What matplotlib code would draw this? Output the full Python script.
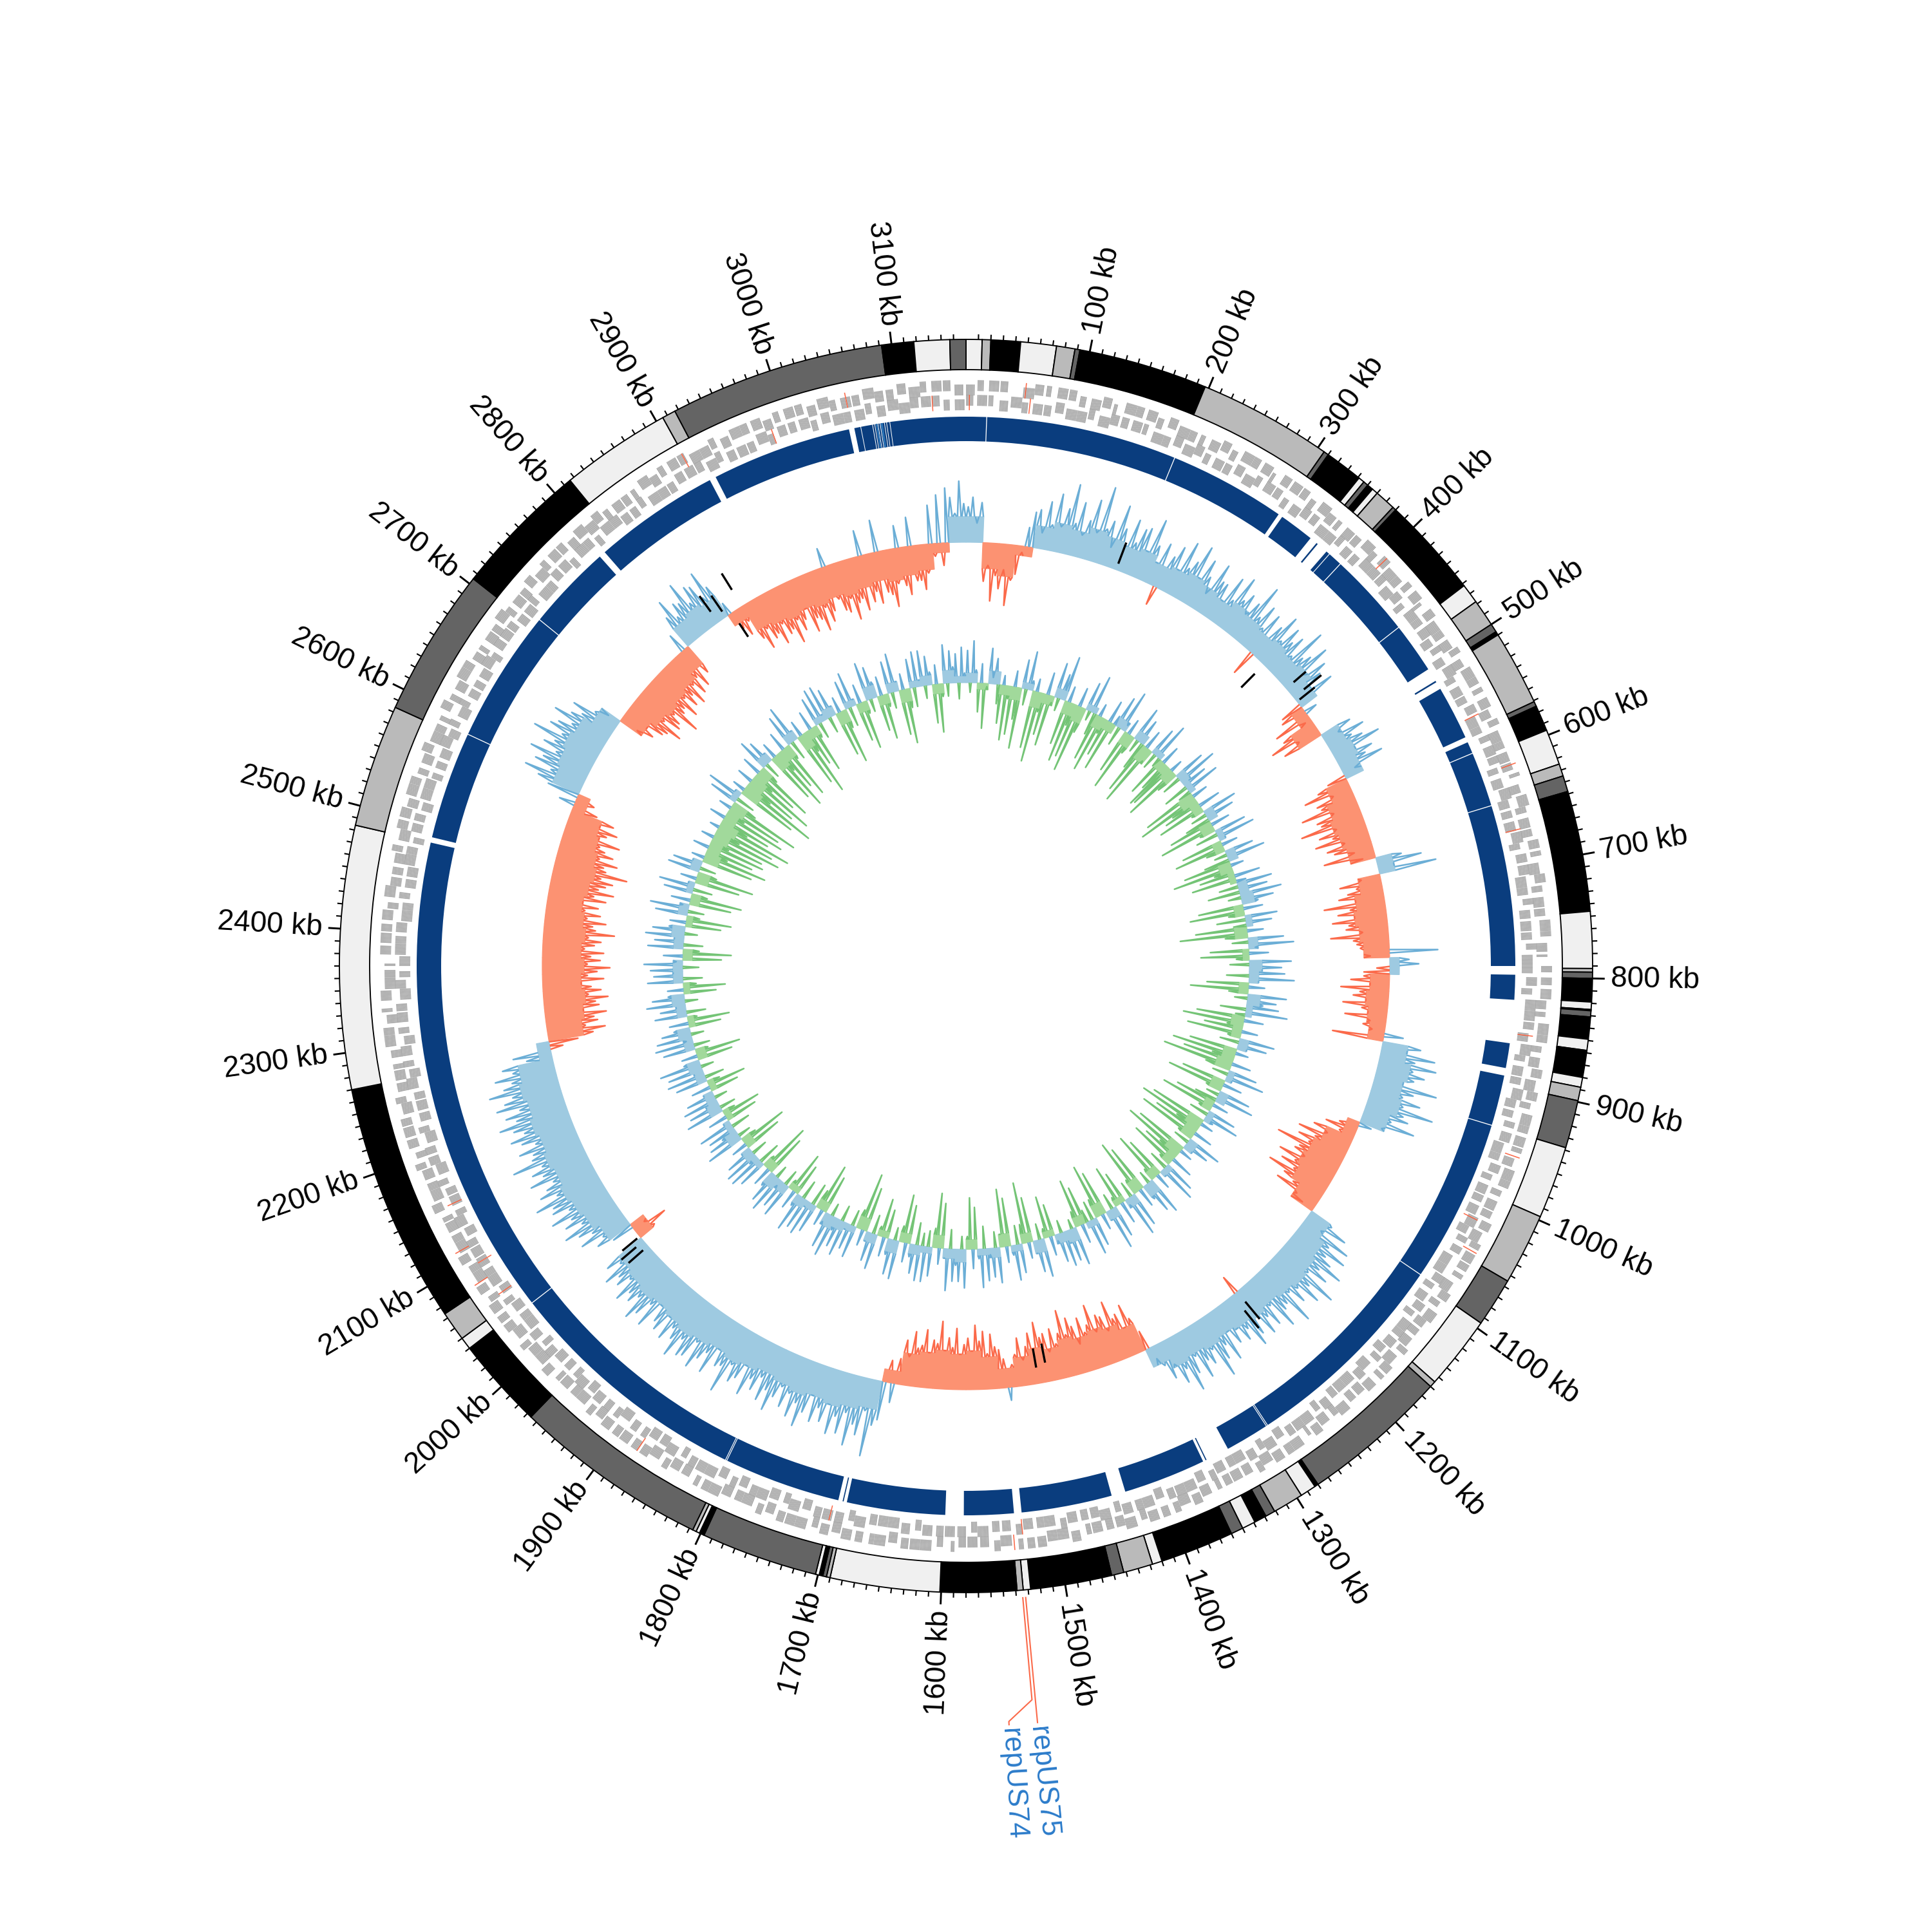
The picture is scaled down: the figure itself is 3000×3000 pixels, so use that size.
import numpy as np
import matplotlib
matplotlib.use("Agg")
import matplotlib.pyplot as plt
from matplotlib.collections import LineCollection

plt.rcParams['font.family'] = ['Liberation Sans', 'DejaVu Sans']

GENOME_KB = 3160

# ideogram bands (kb edges) and shade codes: k black, d dark, m mid, l light
band_edges = [0, 13, 20, 44, 73, 88, 92, 197, 306, 310, 341, 346, 350, 355, 360, 377, 380,
              462, 478, 500, 507, 510, 571, 575, 596, 625, 635, 648, 746, 792, 795, 800,
              819, 825, 826, 831, 849, 858, 859, 880, 888, 899, 938, 997, 1055, 1095, 1155,
              1160, 1280, 1283, 1296, 1321, 1329, 1339, 1350, 1360, 1420, 1428, 1452, 1462,
              1528, 1534, 1539, 1601, 1690, 1693, 1696, 1699, 1702, 1797, 1801, 1804, 1807,
              1966, 2040, 2050, 2074, 2270, 2484, 2584, 2705, 2816, 2906, 2917, 3092, 3118,
              3147, 3160]
band_shade = list("lmklmdkmdk" "ldklmdklmd" "kmdklmdklm" "dklmdklmkl" "mdlmdlmdkl"
                  "mdkldklmdk" "lmklmdkldk" "lmdklmklmd" "klmdkld")

tick_major = list(range(100, 3200, 100))
tick_minor = [k for k in range(10, 3160, 10) if k % 100]

# genes per 10 kb window, forward and reverse strand
genes_fwd = [7,5,8,6,0,9,7,4,8,6, 5,8,7,3,9,6,8,5,7,9, 6,4,8,7,5,9,6,8,3,7, 8,6,5,9,7,4,8,6,9,5,
             7,9,6,5,8,3,7,9,6,8, 5,7,9,6,4,8,7,5,9,6, 8,6,3,7,9,5,8,6,7,4, 9,7,5,8,6,9,4,7,2,5,
             6,8,7,4,9,6,5,8,7,9, 7,5,9,6,8,4,7,9,6,5, 8,6,7,9,5,8,6,4,9,7, 5,9,7,6,8,5,9,7,4,8,
             7,6,9,5,8,7,3,9,6,8, 9,5,7,8,6,4,8,7,9,5, 6,8,5,9,7,6,8,4,7,9, 8,7,6,4,9,5,7,8,6,3,
             5,9,8,6,7,9,4,6,8,7, 7,5,9,8,6,7,5,9,6,8, 9,6,4,7,8,5,9,7,6,8, 6,8,7,5,9,6,8,4,7,9,
             8,5,9,7,6,8,5,7,9,6, 7,9,6,8,4,7,9,6,8,5, 5,7,8,6,9,5,7,8,4,6, 9,6,7,3,8,9,6,2,7,8,
             6,8,5,9,7,6,8,5,9,7, 8,7,9,6,5,8,7,9,6,4, 7,5,8,9,6,7,4,8,6,9, 5,8,6,7,9,5,8,6,7,9,
             9,7,5,8,6,4,9,7,5,8, 6,9,8,5,7,9,6,8,7,5, 8,6,7,9,5,8,6,9,7,6, 7,9,5,8,6,7]
genes_rev = [6,8,4,7,9,5,8,6,7,9, 8,5,9,7,6,8,4,9,6,7, 9,7,5,8,6,7,9,5,8,6, 5,8,7,6,9,8,5,7,6,9,
             8,6,9,7,5,9,6,8,7,5, 7,9,5,8,6,7,9,6,5,8, 6,5,8,9,7,6,8,9,5,7, 8,9,6,5,7,8,6,5,9,6,
             7,5,9,8,6,7,9,5,8,6, 9,7,6,5,8,9,6,7,5,8, 6,8,9,7,5,6,9,8,7,5, 8,7,5,9,6,8,7,5,9,7,
             9,8,6,7,5,9,8,6,7,9, 5,7,9,6,8,5,7,9,8,6, 7,9,6,8,5,9,7,6,8,5, 9,6,8,5,7,6,9,5,7,8,
             6,8,5,7,9,8,6,9,5,7, 8,6,7,9,5,8,9,6,7,5, 7,9,8,6,5,9,7,8,5,6, 9,5,6,8,7,9,5,6,8,7,
             5,7,9,6,8,5,7,9,6,8, 8,6,7,9,5,8,6,5,9,7, 6,9,5,7,8,6,9,7,5,8, 7,5,8,6,9,7,5,8,9,6,
             8,9,6,5,7,8,9,6,5,7, 6,7,9,8,5,6,8,9,7,5, 9,5,7,6,8,9,5,7,8,6, 7,8,5,9,6,7,8,5,9,6,
             5,9,8,7,6,5,9,8,6,7, 8,6,9,5,7,8,6,9,5,7, 6,8,5,7,9,6,8,5,7,9, 9,7,8,6,5,8]
red_genes = [3, 52, 57, 403, 560, 612, 668, 852, 958, 1022, 1048, 1530, 1538, 1702,
             1880, 2062, 2080, 2095, 2112, 2152, 2905, 2985, 3055, 3130]
red_gene_strand = [1, 0, 1, 0, 1, 0, 1, 1, 0, 1, 0, 1, 0, 1, 0, 1, 0, 1, 0, 1, 0, 1, 0, 1]

# blue ring: breaks and lighter stripes (kb)
blue_gap_start = [18.6, 195.6, 304.5, 341, 349.5, 363.2, 376.6, 455.6, 503, 517, 574, 589.6,
                  640.6, 790, 821, 884, 937.6, 1089.6, 1287.4, 1288.8, 1330, 1353, 1432, 1529,
                  1582, 1690, 1694, 1806.2, 1807.6, 2037.6, 2484, 2588.6, 2712.6, 2793, 2916,
                  3052, 3062.7, 3073.7, 3075.7, 3078.7, 3080.7, 3084.7, 3086.7, 3089.7]
blue_gap_end = [19.4, 196.4, 308.5, 348, 360, 363.9, 377.4, 456.4, 515.5, 524, 579, 590.4,
                641.4, 798, 861, 891, 938.4, 1090.4, 1288.1, 1289.5, 1352, 1355.5, 1445, 1536,
                1599, 1693, 1698, 1806.9, 1808.3, 2038.4, 2489, 2589.4, 2713.4, 2799, 2922,
                3057, 3063.3, 3074.3, 3076.3, 3079.3, 3081.3, 3085.3, 3087.3, 3090.3]
blue_light_start = [3077.0, 3081.6]
blue_light_end = [3078.6, 3083.4]

# GC skew: smoothed (20 kb) and raw (5 kb), arbitrary units
skew_fill = [40, -40, -50, -15, 35, 45, 40, 50, 45, 40, 45, 35, 40, 45, 40, 35, 45, 40, 35, 40,
             35, 40, 30, -20, -40, 30, 35, 30, -35, -45, -50, -45, -40, 25, -35, -45, -50, -45, -40, 15,
             -30, -35, -30, -25, 40, 50, 45, 50, 40, -20, -45, -55, -60, -55, -40, 35, 45, 50, 55, 50,
             45, 50, 45, 40, 45, 40, 45, 30, -45, -55, -60, -55, -60, -50, -55, -45, -30, -50, -60, -55,
             -60, -55, -50, -20, 45, 50, 55, 50, 55, 50, 45, 50, 55, 50, 55, 60, 55, 50, 55, 50,
             45, -25, 40, 50, 55, 60, 55, 60, 55, 60, 55, 60, 55, 20, -55, -60, -65, -60, -65, -60,
             -65, -60, -55, -60, -65, -60, -55, -50, -20, 45, 50, 55, 50, 35, -40, -50, -55, -50, -45, -35,
             35, 40, 35, -20, -45, -50, -55, -50, -55, -50, -55, -50, -45, -50, -45, -40, -15, 40]
skew_line = [
    55, 70, 30, 62, -60, -35, -90, -50, -70, -40, -95, -55, -45, -10, 30, 55, 60, 25, 75, 40,
    90, 40, 70, 110, 50, 85, 35, 60, 95, 45, 120, 55, 70, 30, 100, 65, 40, 85, 50, 75,
    80, 45, 100, 60, 35, 70, -30, 55, 75, 40, 90, 50, 65, 95, 45, 80, 55, 30, 85, 60,
    60, 35, 80, 45, 90, 55, 70, 40, 65, 100, 50, 75, 40, 70, -40, 60, 85, 45, 75, 55,
    70, 40, 95, 50, 60, 85, 35, 70, 55, 30, 65, -35, -40, 20, -60, -10, -55, -80, -35, -65,
    50, 25, 65, 40, 55, 80, 35, 60, 45, 70, 20, -30, -50, -75, -30, -60, -55, -90, -40, -70,
    -65, -100, -45, -75, -55, -85, -40, -70, -60, -30, -80, -20, 40, 70, 25, 90, -30, -65, -40, -55,
    -70, -45, -95, -55, -75, -50, -85, -60, -65, -40, -90, -55, -50, -45, 75, -30, 30, 45, -20, -40,
    -40, -60, -30, -75, -45, -55, -35, -70, -40, -30, -65, -25, -35, -20, 30, -80, 60, 40, 85, 55,
    90, 55, 75, 60, 45, 100, 65, 50, 80, 55, 105, 60, 70, 45, 85, 35, 20, -30, -50, -25,
    -65, -40, -85, -55, -80, -60, -110, -70, -75, -55, -95, -65, -85, -60, -100, -70, -50, -75, -35, -20,
    40, 70, 30, 85, 55, 90, 60, 75, 100, 65, 85, 55, 110, 70, 95, 60, 80, 55, 105, 65,
    70, 95, 50, 80, 60, 85, -30, 75, 90, 55, 70, 45, 65, 40, 85, 55, 75, 100, 50, 70,
    60, 85, 45, 70, 95, 55, 75, 40, 60, 35, 20, -30, -55, -80, -45, -70, -65, -95, -50, -75,
    -80, -55, -100, -70, -60, -85, -45, -75, -90, -65, -105, -70, -55, -80, -45, -75, -70, -95, -55, -80,
    -60, -40, -75, -50, -35, 20, -45, -60, -65, -85, -55, -90, -75, -100, -60, -80, -70, -55, -95, -65,
    -80, -60, -105, -70, -75, -55, -90, -65, -60, -85, -45, -70, -40, 30, -35, 60, 70, 120, 50, 90,
    75, 110, 60, 95, 70, 100, 55, 85, 65, 90, 50, 80, 105, 70, 95, 60, 85, 55, 75, 100,
    70, 90, 55, 80, 65, 95, 50, 75, 85, 60, 110, 70, 75, 50, 95, 65, 80, 100, 60, 90,
    95, 70, 105, 80, 65, 90, 55, 85, 75, 50, 95, 60, 85, 100, 65, 80, 70, 90, 55, 75,
    65, 85, 50, 70, -30, -55, -20, 35, 60, 45, 80, 55, 75, 95, 60, 85, 70, 100, 65, 90,
    85, 110, 70, 95, 80, 65, 100, 75, 90, 70, 115, 80, 75, 95, 65, 85, 100, 75, 90, 110,
    80, 95, 70, 105, 90, 75, 110, 85, 70, 95, 65, 80, 40, 60, -20, -45, -70, -90, -60, -80,
    -75, -95, -60, -85, -80, -100, -70, -90, -75, -60, -95, -70, -85, -105, -70, -90, -75, -95, -65, -80,
    -90, -70, -110, -80, -75, -95, -65, -85, -60, -80, -55, -90, -70, -100, -75, -85, -95, -75, -115, -80,
    -75, -95, -65, -85, -70, -60, -90, -55, -65, -80, -50, -70, -40, 25, -30, 50, 70, 95, 55, 85,
    75, 100, 60, 85, 70, 110, 65, 90, 80, 60, 95, 70, 55, 75, 40, 20, -30, -55, -40, -65,
    -70, -90, -55, -80, -75, -60, -100, -70, -65, -85, -55, -75, -60, -80, -50, -70, -45, -65, 30, -50,
    55, 80, 45, 65, 60, 90, 50, 75, 70, 45, 85, 55, 20, -30, -45, -25, -60, -80, -50, -70,
    -65, -85, -55, -75, -70, -95, -60, -80, -65, -50, -90, -70, -75, -95, -60, -85, -70, 30, -55, -75,
    -80, -60, -95, -70, -65, -85, 40, -75, -60, -80, 50, -65, -70, -90, -55, 35, -60, -75, 45, -55,
    -55, -70, -45, 60, -20, 75, -35, 85, 70, 45, 95, 60]
black_kb = [182, 392, 431, 445, 451, 1231, 1238, 1481, 1493, 2007, 2015, 2022, 2846, 2857, 2866, 2880]
black_from = [10, -20, 15, 20, 5, 20, 30, -30, -25, 10, 15, 5, 20, 10, -20, 30]
black_to = [45, -50, 40, 55, 35, 55, 65, -60, -55, 40, 45, 35, 50, 40, -45, 60]

# inner GC content deviation: smoothed (20 kb) and raw (5 kb)
gc_fill = [15, -10, 20, -15, -20, 10, -25, -15, 15, -20, -25, 10, -20, -15, 15, -20, 15, -25, 10, -15,
           -20, 15, 10, -25, -15, 15, -20, 10, -15, 15, -20, -10, 15, 20, -15, 10, -20, 15, -10, 20,
           15, -15, 20, 10, -20, -15, 15, -20, -25, 10, -20, 15, -15, 10, -25, -20, 15, -25, -15, 10,
           -15, 20, -20, 15, -10, 15, -20, 10, -15, 20, 15, -10, 20, -15, 10, -20, 15, 10, -15, 20,
           15, -20, 10, 15, -15, 20, -10, 15, -20, 10, 15, 20, -15, 10, 15, -10, 15, 20, -15, 10,
           15, -15, 20, 10, -10, 20, 15, -10, 15, 20, -15, 15, 20, -10, 15, 20, -10, 15, 15, -15,
           15, 20, -10, 15, -15, 10, -20, 15, -25, -20, -25, -30, -20, -25, 10, -30, -25, -20, 15, -25,
           -20, 15, -25, -15, 10, 15, -20, 10, -15, 20, -15, 15, -20, 10, 15, -15, 20, 10]
gc_line = [
    50, -15, 65, 20, -45, 30, -70, -5, 55, 10, 40, -30, -60, 15, -85, -20, -75, 25, -50, -95,
    45, -25, 60, 15, -90, 20, -110, -30, -65, 35, -80, -10, 55, -20, 40, 70, -70, 25, -95, -35,
    -85, 30, -105, -40, 45, -15, 60, -35, -75, 20, -90, -25, -60, 35, -80, 15, 50, -30, 65, 10,
    -70, 25, -95, -30, 55, -20, 40, -45, -85, 30, -100, -20, 45, -25, 60, -15, -65, 30, -50, -80,
    -75, 20, -90, -35, 50, -30, 65, 15, 40, -40, 55, -20, -85, 25, -100, -45, -60, 35, -75, -20,
    55, -25, 45, -40, -70, 30, -90, -25, 50, -35, 60, 10, -65, 25, -80, -30, 45, -20, 60, -40,
    -75, 20, -95, -30, -55, 40, -70, 15, 55, -30, 45, -50, 65, -20, 50, 25, -70, 30, -85, -25,
    50, -45, 40, -20, -80, 25, -105, -35, 55, -25, 70, 10, -60, 30, -75, -20, 65, -30, 50, 20,
    55, -35, 70, 15, -65, 25, -90, -30, 60, -20, 45, 25, 50, -40, 65, -15, -75, 30, -95, -25,
    -60, 25, -85, -20, 55, -30, 45, 15, -75, 20, -100, -35, -80, 30, -110, -40, 45, -25, 60, 10,
    -70, 30, -90, -25, 50, -20, 60, -35, -65, 25, -85, -20, 45, -30, 55, 15, -90, 20, -105, -40,
    -75, 30, -95, -25, 55, -25, 40, 15, -85, 20, -100, -35, -60, 35, -75, -20, 50, -30, 60, 10,
    -65, 25, -80, -20, 60, -20, 50, 25, -75, 30, -90, -25, 55, -25, 65, 10, -50, 35, -65, -15,
    50, -25, 65, 15, -70, 25, -85, -30, 45, -30, 55, -20, -60, 30, -75, -25, 60, -15, 50, 20,
    55, -20, 45, 10, -50, 30, -65, -15, 60, -25, 50, 20, -70, 25, -95, -30, 45, -30, 55, 15,
    -75, 25, -90, -20, 55, -25, 45, 10, 50, -35, 60, 15, -65, 30, -80, -20, 60, -20, 50, 25,
    50, -30, 65, 15, -70, 25, -85, -30, 45, -25, 55, -20, 55, -35, 45, 20, -60, 30, -75, -25,
    60, -20, 55, 25, -45, 30, -60, -15, 55, -30, 45, 15, -70, 25, -90, -30, 50, -25, 40, 10,
    55, -25, 45, 20, 65, -20, 55, 15, -60, 25, -75, -30, 45, -35, 55, 10, 50, -30, 60, 20,
    -50, 30, -65, -15, 55, -25, 45, 10, 60, -20, 50, 25, -65, 30, -80, -20, 45, -35, 55, 15,
    55, -25, 45, 15, -60, 25, -75, -25, 60, -20, 50, 25, 45, -30, 55, 10, -50, 30, -60, -20,
    60, -25, 50, 20, 55, -20, 45, 15, -45, 30, -60, -20, 50, -30, 60, 15, 55, -20, 65, 25,
    -55, 25, -70, -20, 50, -25, 60, 10, 55, -20, 45, 25, -50, 30, -65, -15, 50, -30, 40, 15,
    60, -20, 50, 25, -50, 25, -65, -20, 55, -30, 45, 15, 50, -25, 60, 10, -60, 30, -75, -25,
    55, -30, 45, 15, 60, -20, 50, 25, -55, 25, -70, -20, 50, -25, 60, 10, -65, 30, -80, -25,
    45, -30, 55, 10, -70, 25, -90, -30, 50, -25, 45, 15, -80, 20, -100, -35, -75, 25, -90, -30,
    -85, 20, -110, -40, -95, 15, -120, -45, -80, 25, -100, -30, -90, 20, -115, -40, 45, -30, 55, 10,
    -95, 20, -125, -45, -85, 25, -110, -35, -75, 30, -95, -30, 50, -25, 40, 15, -80, 25, -100, -35,
    -70, 30, -90, -25, 50, -30, 60, 15, -85, 25, -105, -35, -60, 30, -75, -20, 45, -25, 55, 10,
    55, -25, 45, 15, -70, 25, -85, -30, 45, -30, 55, 10, -60, 30, -75, -20, 60, -20, 50, 25,
    -55, 30, -70, -20, 50, -25, 60, 15, -70, 25, -85, -30, 45, -30, 55, 10, 55, -20, 45, 20,
    -60, 30, -75, -20, 60, -20, 50, 25, 45, -25, 55, 15]

rep_names = ["repUS74", "repUS75"]
rep_kb = [1534.9, 1532.6]
rep_label_kb = [1551.5, 1532.6]

# radii in pixels of the 3000 px canvas
R_BAND = (926, 973)
R_GENE_FWD = [(893, 910), (886, 903)]
R_GENE_REV = [(870, 887), (863, 880)]
R_BLUE = (815, 853)
R_SKEW = 658
R_GC = 440

SHADE = {'k': '#000000', 'd': '#646464', 'm': '#bababa', 'l': '#f0f0f0'}
NAVY = '#0a3d7e'
GENE_GREY = '#a2a2a2'


def th(kb):
    return np.asarray(kb, dtype=float) * 2 * np.pi / GENOME_KB


fig = plt.figure(figsize=(10, 10), dpi=300)
ax = fig.add_axes([0, 0, 1, 1], projection='polar')
ax.set_theta_zero_location('N')
ax.set_theta_direction(-1)
ax.axis('off')

# ideogram
e = np.array(band_edges, dtype=float)
ax.bar(th((e[:-1] + e[1:]) / 2), R_BAND[1] - R_BAND[0], width=th(e[1:] - e[:-1]),
       bottom=R_BAND[0], color=[SHADE[s] for s in band_shade],
       edgecolor='black', linewidth=0.45, zorder=2)

# ticks and labels
ax.vlines(th(tick_minor), R_BAND[1], R_BAND[1] + 8, color='black', linewidth=0.5)
ax.vlines(th(tick_major), R_BAND[1], R_BAND[1] + 19, color='black', linewidth=0.7)
for k in tick_major:
    a = 360.0 * k / GENOME_KB
    if a <= 180:
        rot, ha = 90 - a, 'left'
    else:
        rot, ha = 270 - a, 'right'
    ax.text(th(k), R_BAND[1] + 28, f"{k} kb", rotation=rot, rotation_mode='anchor',
            ha=ha, va='center', fontsize=11, color='black')

# gene track: genes packed from the window start, lane toggles on odd counts
for counts, lanes in ((genes_fwd, R_GENE_FWD), (genes_rev, R_GENE_REV)):
    centers, bottoms = [], []
    lane = 0
    for i, c in enumerate(counts):
        if c % 2:
            lane = 1 - lane
        lo, hi = lanes[lane]
        for j in range(c):
            centers.append(i * 10 + j * 1.1 + 0.5)
            bottoms.append(lo)
    ax.bar(th(centers), 17, width=th(0.9), bottom=bottoms, color=GENE_GREY,
           linewidth=0, zorder=2)
rg_bottom = [R_GENE_FWD[1][0] if s == 0 else R_GENE_REV[1][0] for s in red_gene_strand]
ax.bar(th(red_genes), 24, width=th(0.9), bottom=rg_bottom, color='#fb6a4a', linewidth=0, zorder=3)

# blue ring
ax.bar([0.0], [R_BLUE[1] - R_BLUE[0]], width=[2 * np.pi], bottom=R_BLUE[0], color=NAVY,
       linewidth=0, zorder=2)
gs = np.array(blue_gap_start)
ge = np.array(blue_gap_end)
ax.bar(th((gs + ge) / 2), R_BLUE[1] - R_BLUE[0] + 4, width=th(ge - gs), bottom=R_BLUE[0] - 2,
       color='white', linewidth=0, zorder=3)
ls = np.array(blue_light_start)
le = np.array(blue_light_end)
ax.bar(th((ls + le) / 2), R_BLUE[1] - R_BLUE[0], width=th(le - ls), bottom=R_BLUE[0],
       color='#2a72b5', linewidth=0, zorder=3)


def fill_track(vals, step, r0, pos_col, neg_col):
    v = np.array(vals, dtype=float)
    mids = np.arange(len(v)) * step + step / 2
    cols = [pos_col if x > 0 else neg_col for x in v]
    ax.bar(th(mids), v, width=th(step), bottom=r0, color=cols, edgecolor=cols,
           linewidth=0.3, zorder=2)


def spike_track(vals, fill, step, fstep, r0, pos_col, neg_col, half=2.0, lw=0.6):
    # each window drawn as a narrow peak rising from the smoothed level
    v = np.array(vals, dtype=float)
    f = np.array(fill, dtype=float)
    pos, neg = [], []
    for i, x in enumerate(v):
        k = i * step + step / 2
        base = f[int(k // fstep)]
        if base * x <= 0:
            base = 0.0
        seg = [(float(th(k - half)), r0 + base), (float(th(k)), r0 + x),
               (float(th(k + half)), r0 + base)]
        (pos if x > 0 else neg).append(seg)
    ax.add_collection(LineCollection(pos, colors=pos_col, linewidths=lw, zorder=4))
    ax.add_collection(LineCollection(neg, colors=neg_col, linewidths=lw, zorder=4))


fill_track(skew_fill, 20, R_SKEW, '#9ecae1', '#fc9272')
spike_track(skew_line, skew_fill, 5, 20, R_SKEW, '#6baed6', '#fb6a4a')
ax.vlines(th(black_kb), R_SKEW + np.array(black_from), R_SKEW + np.array(black_to),
          color='black', linewidth=0.8, zorder=5)

fill_track(gc_fill, 20, R_GC, '#9ecae1', '#a1d99b')
spike_track(gc_line, gc_fill, 5, 20, R_GC, '#6baed6', '#74c476', half=1.8)

# highlighted loci with leader lines
for name, k, kl in zip(rep_names, rep_kb, rep_label_kb):
    ax.plot(th([k, k, kl, kl]), [R_BAND[1] + 12, 1144, 1175, 1180], color='#fb6a4a',
            linewidth=0.5, zorder=5)
    a = 360.0 * kl / GENOME_KB
    ax.text(th(kl), 1186, name, rotation=90 - a, rotation_mode='anchor', ha='left',
            va='center', fontsize=10.5, color='#2b7bca')

ax.set_ylim(0, 1500)
fig.savefig('out.png', dpi=300, facecolor='white')
